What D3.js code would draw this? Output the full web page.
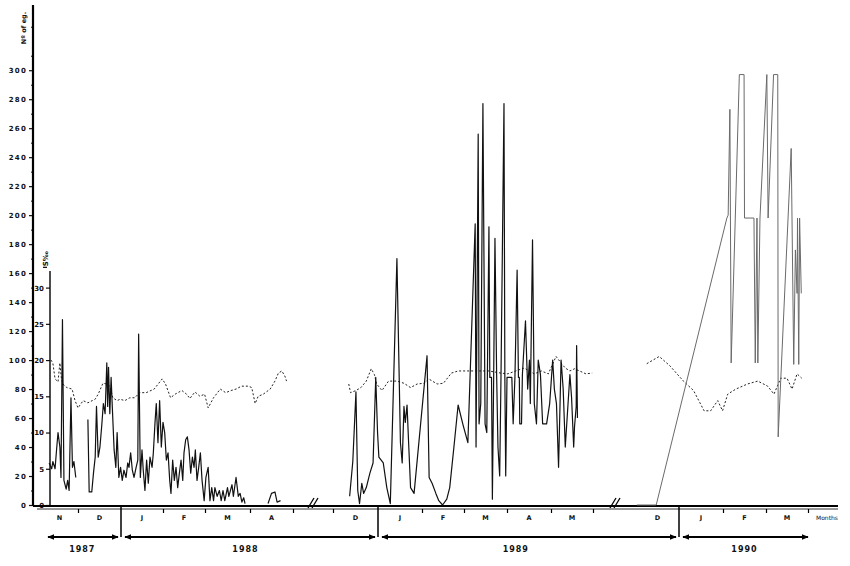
<!DOCTYPE html>
<html>
<head>
<meta charset="utf-8">
<script src="https://cdnjs.cloudflare.com/ajax/libs/d3/7.8.5/d3.min.js"></script>
<style>
body{margin:0;background:#fff}
text{font-family:"DejaVu Sans",sans-serif;font-weight:bold;fill:#111}
</style>
</head>
<body>
<script>
// month index: 0 = Nov 1987, 13 = Dec 1988, 25 = Dec 1989
var eggTicks = [0,20,40,60,80,100,120,140,160,180,200,220,240,260,280,300];
var salTicks = [0,5,10,15,20,25,30];
var monthNames = ['N','D','J','F','M','A','D','J','F','M','A','M','D','J','F','M'];
var monthIdx = [0,1,2,3,4,5,13,14,15,16,17,18,25,26,27,28];
var monthTicks = [1,3,4,5,6,13,15,16,17,18,19,27,28,29];
var yearSeps = [2,14,26];
var years = ['1987','1988','1989','1990'];
var yearStart = [0,2,14,26];
var yearEnd = [2,14,26,29];
var yearLabelAt = [1.1,4.9,17.2,27.5];
var breaks = [6.45,19.5];

// eggs, 1987-88 (null = no sampling)
var eggs1 = [[0.22,29],[0.29,25],[0.32,30],[0.38,25],[0.42,38],[0.46,50],[0.51,40],[0.54,19],[0.58,128],[0.62,17],
  [0.68,11],[0.72,17],[0.76,10],[0.81,74],[0.85,26],[0.89,30],[0.94,19],[1.1,null],
  [1.23,59],[1.26,9],[1.32,9],[1.36,22],[1.40,33],[1.43,68],[1.47,33],[1.51,40],[1.55,54],[1.59,70],[1.63,63],
  [1.67,98],[1.69,68],[1.71,95],[1.74,63],[1.77,88],[1.80,66],[1.84,38],[1.88,26],[1.91,50],[1.95,19],[1.99,26],
  [2.03,17],[2.07,24],[2.12,19],[2.16,29],[2.19,26],[2.23,36],[2.27,24],[2.31,19],[2.36,26],[2.40,31],[2.42,118],
  [2.46,19],[2.50,38],[2.53,24],[2.57,10],[2.61,31],[2.65,15],[2.69,33],[2.74,26],[2.77,36],[2.81,57],[2.84,70],
  [2.88,43],[2.92,72],[2.96,40],[3.00,57],[3.04,50],[3.08,31],[3.12,36],[3.16,17],[3.19,8],[3.23,31],[3.27,17],
  [3.31,26],[3.35,12],[3.39,22],[3.43,31],[3.47,17],[3.50,36],[3.54,45],[3.58,47],[3.62,38],[3.66,22],[3.70,33],
  [3.74,26],[3.77,38],[3.81,17],[3.85,26],[3.89,36],[3.93,17],[3.98,3],[4.02,19],[4.07,26],[4.11,3],[4.15,12],
  [4.19,3],[4.22,12],[4.27,6],[4.32,10],[4.36,3],[4.40,10],[4.44,3],[4.50,12],[4.53,6],[4.60,14],[4.63,6],
  [4.69,19],[4.74,6],[4.78,8],[4.82,2],[4.86,5],[4.89,1],[5.1,null],
  [5.42,1],[5.50,8],[5.58,9],[5.63,2],[5.71,3]];

// eggs, 1988-89
var eggs2 = [[13.37,6],[13.44,30],[13.51,78],[13.55,10],[13.59,1],[13.64,15],[13.68,8],[13.74,12],[13.82,22],
  [13.89,29],[13.95,88],[13.99,50],[14.02,33],[14.12,29],[14.20,12],[14.28,1],[14.43,170],[14.51,43],[14.55,29],
  [14.59,68],[14.62,57],[14.66,69],[14.70,40],[14.74,12],[14.82,8],[15.12,103],[15.17,19],[15.24,15],[15.33,8],
  [15.40,3],[15.49,0],[15.59,4],[15.66,12],[15.76,40],[15.86,69],[15.98,55],[16.09,43],[16.26,194],[16.28,40],
  [16.33,256],[16.35,56],[16.39,70],[16.44,277],[16.49,56],[16.53,50],[16.58,192],[16.60,88],[16.64,88],
  [16.66,4],[16.69,88],[16.72,184],[16.76,88],[16.79,40],[16.83,20],[16.86,88],[16.93,277],[16.95,88],
  [16.97,20],[17.00,88],[17.11,88],[17.14,56],[17.18,88],[17.23,162],[17.26,88],[17.28,88],[17.29,56],
  [17.33,56],[17.35,90],[17.42,127],[17.47,80],[17.51,100],[17.53,70],
  [17.58,183],[17.62,70],[17.67,56],[17.71,100],[17.76,90],[17.81,56],[17.90,56],[17.97,70],[18.04,100],
  [18.08,80],[18.13,70],[18.18,26],[18.24,100],[18.29,80],[18.34,40],[18.45,90],[18.49,74],[18.54,40],
  [18.56,54],[18.60,68],[18.61,110],[18.63,60]];

// eggs, 1989-90
var eggs3 = [[25.02,0],[25.47,0],[27.09,198],[27.12,200],[27.16,273],[27.19,98],[27.38,297],[27.49,297],
  [27.50,198],[27.72,198],[27.75,98],[27.79,198],[27.81,98],[27.86,198],[28.02,297],[28.05,198],[28.18,297],
  [28.28,297],[28.29,47],[28.60,246],[28.66,97],[28.70,176],[28.74,146],[28.75,198],[28.78,97],[28.80,198],[28.84,146]];

// salinity
var sal1 = [[0.27,20],[0.32,19.6],[0.38,17.4],[0.46,17],[0.51,19.6],[0.55,17.5],[0.59,16.7],[0.70,16.2],[0.84,16],
  [0.92,14.4],[1.0,13.4],[1.12,14.4],[1.23,14.1],[1.33,14.4],[1.40,14.6],[1.47,15.3],[1.58,16.8],[1.67,16.7],
  [1.74,16.4],[1.81,14.8],[1.91,14.4],[1.98,14.6],[2.09,14.4],[2.21,14.8],[2.33,14.8],[2.44,15.5],[2.60,15.5],
  [2.79,16],[2.98,17.4],[3.06,16.7],[3.18,14.8],[3.29,15.3],[3.45,15.8],[3.56,15.3],[3.64,14.7],[3.76,15.6],
  [3.88,15],[3.99,15.3],[4.07,13.4],[4.19,14.8],[4.34,16],[4.46,15.5],[4.58,15.8],[4.69,16],[4.81,16.4],
  [4.97,16.4],[5.04,16.2],[5.12,14],[5.19,15],[5.31,15.3],[5.47,16],[5.58,17.1],[5.66,18.2],[5.74,18.5],
  [5.81,17.8],[5.85,17.1]];
var sal2 = [[13.35,16.7],[13.39,15.5],[13.51,15.8],[13.62,16.2],[13.74,17.1],[13.85,18.8],[13.92,18],[13.97,16.7],
  [14.09,15.8],[14.24,17.1],[14.43,17.1],[14.59,16.8],[14.74,16.2],[14.89,16.7],[15.05,16.8],[15.16,17.4],
  [15.36,16.7],[15.51,16.8],[15.70,18.2],[15.86,18.5],[16.16,18.5],[16.58,18.5],[16.86,18.2],[17.02,18.1],
  [17.20,18.5],[17.39,18.9],[17.62,18.1],[17.78,18.5],[17.94,18.1],[18.12,20.5],[18.24,19.6],[18.34,18.9],
  [18.45,18.5],[18.56,18.8],[18.68,18.5],[18.83,18.1],[18.98,18.2]];
var sal3 = [[25.25,19.5],[25.54,20.5],[25.79,19.2],[26.10,17.1],[26.33,15.8],[26.57,13],[26.72,13],[26.88,14.4],
  [26.99,13],[27.11,15.3],[27.30,16],[27.57,16.7],[27.81,17.1],[28.04,16.4],[28.19,15.3],[28.35,17.5],
  [28.50,17.5],[28.62,16],[28.74,18.1],[28.85,17.5]];

var svg = d3.select('body').append('svg')
    .attr('width', 850)
    .attr('height', 566)

var axisX = 33, salX = 50, base = 505

// scales (x is broken twice, so polylinear)
var x = d3.scaleLinear()
    .domain([0,1,2,3,4,5,6,6.45,12.55,13,14,15,16,17,18,19,19.5,24.5,25,26,27,28,29,29.7])
    .range([41,78,121,163,205,250,293,313,313,333,378,422,464,507,551,593,615,615,636,679,723,766,808,838])

var y = d3.scaleLinear().domain([0,345]).range([base,5])
var ys = d3.scaleLinear().domain([0,30]).range([base, y(150)])

// outer axis (eggs)
var yAxis = d3.axisLeft(y).tickValues(eggTicks).tickSize(4).tickPadding(2)
var gy = svg.append('g').attr('transform','translate(' + axisX + ',0)').call(yAxis)
gy.select('.domain').remove()
gy.selectAll('text').style('font-size','7px').style('letter-spacing','1.2px').attr('dy','0.35em')
gy.selectAll('line').attr('stroke','#111').attr('stroke-width',1.2)

svg.append('g').attr('transform','translate(' + axisX + ',0)')
    .call(d3.axisLeft(y).tickValues(d3.range(10,340,20)).tickSize(2).tickFormat(''))
    .call(g => g.select('.domain').remove())
    .selectAll('line').attr('stroke','#111')

svg.append('line')
    .attr('x1',axisX).attr('x2',axisX).attr('y1',y(0)+1).attr('y2',y(345))
    .attr('stroke','#000').attr('stroke-width',2.2)

svg.append('text')
    .attr('transform','translate(26,28) rotate(-90)')
    .attr('text-anchor','middle')
    .style('font-size','6.5px')
    .text('Nº of eg.')

// inner axis (salinity)
var sAxis = d3.axisLeft(ys).tickValues(salTicks).tickSize(4).tickPadding(2)
var gs = svg.append('g').attr('transform','translate(' + salX + ',0)').call(sAxis)
gs.select('.domain').remove()
gs.selectAll('text').style('font-size','7px').attr('dy','0.35em')
gs.selectAll('line').attr('stroke','#111').attr('stroke-width',1.2)

svg.append('line')
    .attr('x1',salX).attr('x2',salX).attr('y1',base).attr('y2',ys(32.3))
    .attr('stroke','#000').attr('stroke-width',1.4)
svg.append('line')
    .attr('x1',salX-7).attr('x2',salX-3).attr('y1',ys(32.8)).attr('y2',ys(32.8))
    .attr('stroke','#000').attr('stroke-width',1.2)
svg.append('text')
    .attr('transform','translate(' + (salX-2) + ',' + (ys(34)) + ') rotate(-90)')
    .attr('text-anchor','middle')
    .style('font-size','7px')
    .text('S‰')

// baseline and month row
svg.append('line')
    .attr('x1',axisX).attr('x2',838).attr('y1',base+1).attr('y2',base+1)
    .attr('stroke','#000').attr('stroke-width',2)
svg.append('line')
    .attr('x1',axisX+4).attr('x2',838).attr('y1',base+4).attr('y2',base+4)
    .attr('stroke','#333').attr('stroke-width',1)

var xAxis = d3.axisBottom(x).tickValues(monthTicks).tickSize(4).tickFormat('')
svg.append('g').attr('transform','translate(0,' + (base+4) + ')').call(xAxis)
    .call(g => g.select('.domain').remove())
    .selectAll('line').attr('stroke','#000').attr('stroke-width',1.2)

svg.selectAll('.sep')
    .data(yearSeps)
    .enter()
    .append('line')
    .attr('x1',d => x(d)).attr('x2',d => x(d))
    .attr('y1',base+1).attr('y2',base+32)
    .attr('stroke','#000').attr('stroke-width',1.5)

svg.selectAll('.month')
    .data(monthNames)
    .enter()
    .append('text')
    .attr('x',(d,i) => x(monthIdx[i]+0.5))
    .attr('y',base+15)
    .attr('text-anchor','middle')
    .style('font-size','6.5px')
    .text(d => d)

svg.append('text')
    .attr('x',816).attr('y',base+15)
    .style('font-size','6px')
    .style('font-weight','normal')
    .text('Months')

// break marks
breaks.forEach(function(b){
  [-2,2].forEach(function(o){
    svg.append('line')
      .attr('x1',x(b)+o-3).attr('x2',x(b)+o+3)
      .attr('y1',base+3).attr('y2',base-7)
      .attr('stroke','#000').attr('stroke-width',1.3)
  })
})

// year arrows
var defs = svg.append('defs')
defs.append('marker').attr('id','arr').attr('viewBox','0 0 10 10')
    .attr('refX',9).attr('refY',5).attr('markerWidth',4).attr('markerHeight',4)
    .attr('orient','auto-start-reverse')
    .append('path').attr('d','M0,1L10,5L0,9z').attr('fill','#000')

svg.selectAll('.yr')
    .data(years)
    .enter()
    .append('line')
    .attr('x1',(d,i) => x(yearStart[i]) + (i == 0 ? 7 : 4))
    .attr('x2',(d,i) => x(yearEnd[i]) - (i == 3 ? 0 : 3))
    .attr('y1',base+32).attr('y2',base+32)
    .attr('stroke','#000').attr('stroke-width',1.8)
    .attr('marker-start','url(#arr)').attr('marker-end','url(#arr)')

svg.selectAll('.yrlab')
    .data(years)
    .enter()
    .append('text')
    .attr('x',(d,i) => x(yearLabelAt[i]))
    .attr('y',base+47)
    .attr('text-anchor','middle')
    .style('font-size','8px')
    .style('letter-spacing','1px')
    .text(d => d)

// series
var eggLine = d3.line().defined(d => d[1] != null).x(d => x(d[0])).y(d => y(d[1]))
var salLine = d3.line().x(d => x(d[0])).y(d => ys(d[1]))

svg.selectAll('.sal')
    .data([sal1, sal2, sal3])
    .enter()
    .append('path')
    .attr('d', salLine)
    .attr('fill','none')
    .attr('stroke','#222')
    .attr('stroke-width',1)
    .attr('stroke-dasharray','2,2')

svg.selectAll('.egg')
    .data([eggs1, eggs2, eggs3])
    .enter()
    .append('path')
    .attr('d', eggLine)
    .attr('fill','none')
    .attr('stroke',(d,i) => i == 2 ? '#6a6a6a' : '#111')
    .attr('stroke-width',(d,i) => i == 2 ? 1 : 1.2)
    .attr('stroke-linejoin','round')
</script>
</body>
</html>
